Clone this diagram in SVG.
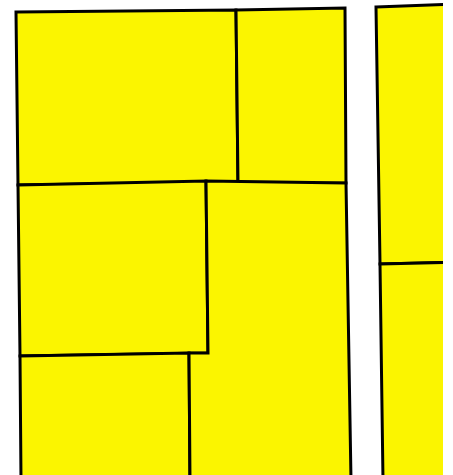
<svg xmlns="http://www.w3.org/2000/svg" width="453" height="475" viewBox="0 0 453 475">
<style>
.p{fill:#fbf500;stroke:#000;stroke-width:3;stroke-linejoin:miter}
</style>
<defs><clipPath id="c"><rect x="0" y="0" width="443" height="475"/></clipPath></defs>
<rect width="453" height="475" fill="#fff"/>
<g id="left">
<polygon id="a" class="p" points="16,12 236,10 238,182 18,185"/>
<polygon id="b" class="p" points="236,10 345,8 346,183 238,184"/>
<polygon id="c1" class="p" points="18,185 206,181 208,353 20,356"/>
<polygon id="d" class="p" points="20,356 189,353 190,480 21,480"/>
<polygon id="e" class="p" points="206,181 346,183 351,480 190,480 189,353 208,353"/>
</g>
<g id="right" clip-path="url(#c)">
<polygon id="f" class="p" points="376,7 460,4 460,262 380,264"/>
<polygon id="g" class="p" points="380,264 460,262 460,480 383,480"/>
</g>
</svg>
